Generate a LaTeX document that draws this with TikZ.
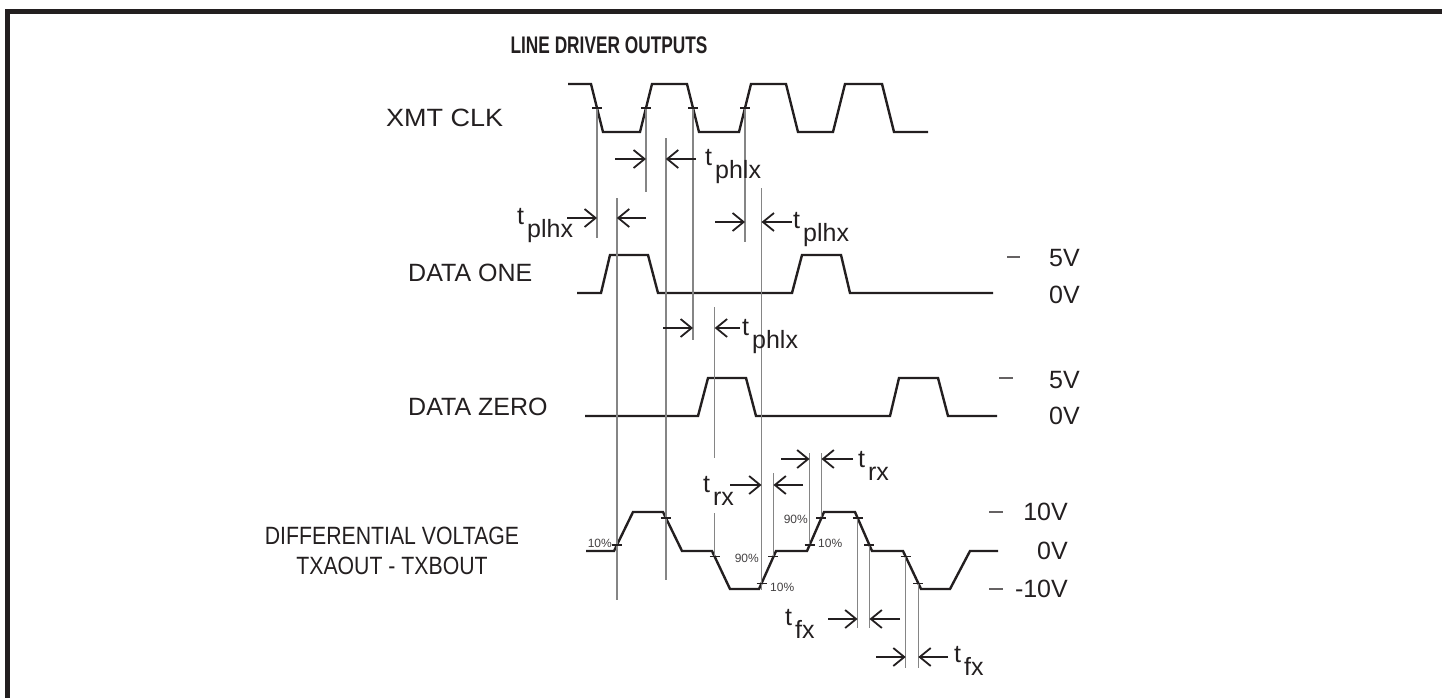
\documentclass[tikz,border=0pt]{standalone}
\usepackage{fontspec}
\setmainfont{Liberation Sans}
\usepackage{tikz}
\usetikzlibrary{calc}
\usetikzlibrary{arrows.meta}
\definecolor{ink}{HTML}{231F20}
\definecolor{guide}{HTML}{858585}
\tikzset{
    wave/.style={ink, line width=2.4pt, line join=miter},
    guideline/.style={guide, line width=1.3pt},
    tickmark/.style={ink, line width=1.4pt},
    level/.style={ink!70, line width=1.1pt},
    timearrow/.style={ink, line width=1.8pt, -{Straight Barb[length=11pt,width=18pt,line width=1.8pt]}},
    sigtext/.style={text=ink, font=\fontsize{25}{30}\selectfont, inner sep=0pt},
    pct/.style={text=ink!85, font=\fontsize{12}{14}\selectfont, inner sep=0pt}
}
\newcommand{\tsub}[1]{t\hspace{3pt}\raisebox{-13pt}{#1}}

\begin{document}
\begin{tikzpicture}[x=1pt,y=-1pt]
    \useasboundingbox (0,0) rectangle (1442,698);
    % frame
    \draw[ink, line width=5pt] (7.5,698) -- (7.5,11.5) -- (1442,11.5);
    \node[sigtext, font=\fontsize{24}{28}\selectfont\bfseries] (title) at (609,45) {\scalebox{0.72}[1]{LINE DRIVER OUTPUTS}};

    % signal names
    \node[sigtext, anchor=west] (clkname) at (386,118) {\scalebox{1.08}[1]{XMT CLK}};
    \node[sigtext, anchor=west] (onename) at (408,273) {DATA ONE};
    \node[sigtext, anchor=west] (zeroname) at (408,407) {DATA ZERO};
    \node[sigtext, align=center] (diffname) at (392,551) {\scalebox{0.85}[1]{DIFFERENTIAL VOLTAGE}\\\scalebox{0.85}[1]{TXAOUT - TXBOUT}};

    % XMT CLK
    \draw[wave] (568,84) -- (591,84) coordinate (c1) -- (603,132) coordinate (c2)
        -- (640,132) coordinate (c3) -- (652,84) coordinate (c4)
        -- (687,84) coordinate (c5) -- (699,132) coordinate (c6)
        -- (739,132) coordinate (c7) -- (751,84) coordinate (c8)
        -- (786,84) -- (798,132) -- (833,132) -- (845,84) -- (882,84) -- (894,132) -- (928,132);
    \coordinate (m1) at ($(c1)!.5!(c2)$);
    \coordinate (m2) at ($(c3)!.5!(c4)$);
    \coordinate (m3) at ($(c5)!.5!(c6)$);
    \coordinate (m4) at ($(c7)!.5!(c8)$);

    % DATA ONE
    \draw[wave] (577,293) -- (601,293) -- (610,255) -- (648,255) -- (658,293) -- (792,293)
        -- (802,255) -- (841,255) -- (850,293) -- (993,293);
    % DATA ZERO
    \draw[wave] (585,416) -- (698,416) -- (708,378) -- (746,378) -- (756,416) -- (890,416)
        -- (899,378) -- (938,378) -- (948,416) -- (997,416);

    % differential voltage
    \draw[wave] (586,551) -- (614,551) coordinate (d1) -- (633,512) coordinate (d2)
        -- (663,512) coordinate (d3) -- (682,551) coordinate (d4)
        -- (712,551) coordinate (d5) -- (730,589) coordinate (d6)
        -- (759,589) coordinate (d7) -- (776,551) coordinate (d8)
        -- (807,551) coordinate (d9) -- (824,512) coordinate (d10)
        -- (855,512) coordinate (d11) -- (872,551) coordinate (d12)
        -- (903,551) coordinate (d13) -- (921,589) coordinate (d14)
        -- (950,589) -- (970,551) -- (998,551);
    \coordinate (tA) at ($(d1)!.15!(d2)$);
    \coordinate (tB) at ($(d3)!.15!(d4)$);
    \coordinate (tC) at ($(d5)!.15!(d6)$);
    \coordinate (tD) at ($(d7)!.15!(d8)$);
    \coordinate (tE) at ($(d7)!.85!(d8)$);
    \coordinate (tF) at ($(d9)!.15!(d10)$);
    \coordinate (tG) at ($(d9)!.85!(d10)$);
    \coordinate (tH) at ($(d11)!.15!(d12)$);
    \coordinate (tI) at ($(d11)!.85!(d12)$);
    \coordinate (tJ) at ($(d13)!.15!(d14)$);
    \coordinate (tK) at ($(d13)!.85!(d14)$);

    % guide lines
    \draw[guideline] (m1) -- (m1 |- 0,238);
    \draw[guideline] (m2) -- (m2 |- 0,192);
    \draw[guideline] (m3) -- (m3 |- 0,340);
    \draw[guideline] (m4) -- (m4 |- 0,242);
    \draw[guideline] (tA |- 0,198) -- (tA |- 0,600);
    \draw[guideline] (tB |- 0,138) -- (tB |- 0,580);
    \draw[guideline] (tC |- 0,307) -- (tC |- 0,458);
    \draw[guideline] (tC |- 0,513) -- (tC);
    \draw[guideline] (tD |- 0,188) -- (tD |- 0,590);
    \draw[guideline] (tE |- 0,473) -- (tE);
    \draw[guideline] (tF |- 0,453) -- (tF);
    \draw[guideline] (tG |- 0,453) -- (tG);
    \draw[guideline] (tH) -- (tH |- 0,628);
    \draw[guideline] (tI) -- (tI |- 0,628);
    \draw[guideline] (tJ) -- (tJ |- 0,668);
    \draw[guideline] (tK) -- (tK |- 0,668);

    % tick marks
    \foreach \p in {m1,m2,m3,m4,tA,tB,tC,tD,tE,tF,tG,tH,tI,tJ,tK}
        \draw[tickmark] ($(\p)+(-5,0)$) -- ($(\p)+(5,0)$);

    % timing arrows
    \draw[timearrow] (615,159) -- (m2 |- 0,159);
    \draw[timearrow] (696,159) -- (tB |- 0,159);
    \node[sigtext, anchor=base west] (phlxa) at (705,165) {\tsub{phlx}};

    \draw[timearrow] (567,218) -- (m1 |- 0,218);
    \draw[timearrow] (646,218) -- (tA |- 0,218);
    \node[sigtext, anchor=base west] (plhxa) at (517,224) {\tsub{plhx}};

    \draw[timearrow] (715,222) -- (m4 |- 0,222);
    \draw[timearrow] (792,222) -- (tD |- 0,222);
    \node[sigtext, anchor=base west] (plhxb) at (793,228) {\tsub{plhx}};

    \draw[timearrow] (663,328) -- (m3 |- 0,328);
    \draw[timearrow] (740,328) -- (tC |- 0,328);
    \node[sigtext, anchor=base west] (phlxb) at (742,335) {\tsub{phlx}};

    \draw[timearrow] (730,485) -- (tD |- 0,485);
    \draw[timearrow] (803,485) -- (tE |- 0,485);
    \node[sigtext, anchor=base west] (rxa) at (703,492) {\tsub{rx}};

    \draw[timearrow] (781,459) -- (tF |- 0,459);
    \draw[timearrow] (853,459) -- (tG |- 0,459);
    \node[sigtext, anchor=base west] (rxb) at (858,467) {\tsub{rx}};

    \draw[timearrow] (828,619) -- (tH |- 0,619);
    \draw[timearrow] (900,619) -- (tI |- 0,619);
    \node[sigtext, anchor=base west] (fxa) at (785,625) {\tsub{fx}};

    \draw[timearrow] (876,657) -- (tJ |- 0,657);
    \draw[timearrow] (948,657) -- (tK |- 0,657);
    \node[sigtext, anchor=base west] (fxb) at (954,662) {\tsub{fx}};

    % percent labels
    \node[pct, anchor=east] (p10a) at (612,543) {10\%};
    \node[pct, anchor=east] (p90a) at (759,558) {90\%};
    \node[pct, anchor=west] (p10b) at (770,587) {10\%};
    \node[pct, anchor=east] (p90b) at (808,519) {90\%};
    \node[pct, anchor=west] (p10c) at (818,543) {10\%};

    % levels
    \draw[level] (1007,257) -- (1020,257);
    \node[sigtext, anchor=east] (onehi) at (1080,258) {5V};
    \node[sigtext, anchor=east] (onelo) at (1080,295) {0V};
    \draw[level] (999,378) -- (1013,378);
    \node[sigtext, anchor=east] (zerohi) at (1080,380) {5V};
    \node[sigtext, anchor=east] (zerolo) at (1080,416) {0V};
    \draw[level] (989,512) -- (1003,512);
    \node[sigtext, anchor=east] (diffhi) at (1068,512) {10V};
    \node[sigtext, anchor=east] (diffmid) at (1068,551) {0V};
    \draw[level] (989,589) -- (1003,589);
    \node[sigtext, anchor=east] (difflo) at (1068,589) {-10V};
\end{tikzpicture}
\end{document}
